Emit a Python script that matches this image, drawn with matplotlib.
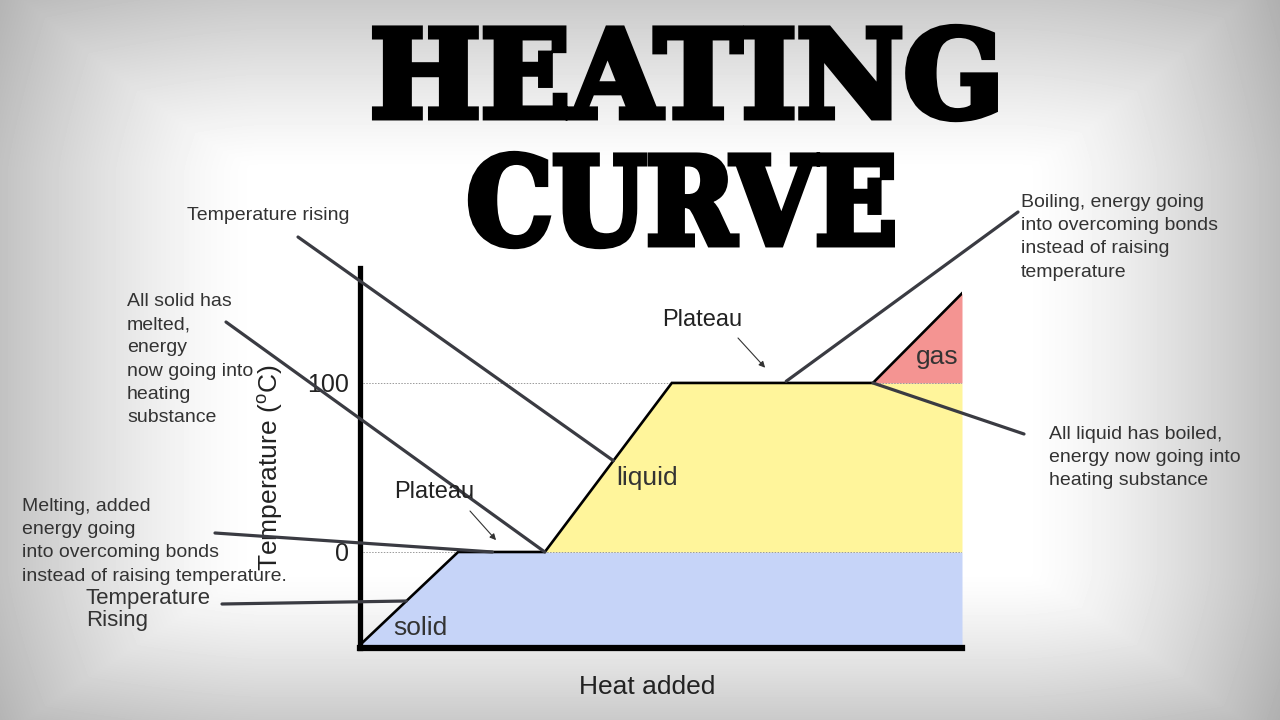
import numpy as np
import matplotlib
matplotlib.use("Agg")
import matplotlib.pyplot as plt
from matplotlib.patches import ConnectionPatch
from matplotlib.transforms import Affine2D
import matplotlib.patheffects as pe

# heating curve (heat added in arbitrary units, temperature in deg C)
heat = [0, 16.3, 30.7, 51.8, 85.2, 100]
temp = [-55, 0, 0, 100, 100, 153]
melt_temp = 0
boil_temp = 100
ytick_values = [0, 100]
ytick_labels = ["0", "100"]
phase_labels = ["solid", "liquid", "gas"]

W, H = 1280, 720
TEXT = "#333333"
LEADER = "#3a3b42"

plt.rcParams["font.family"] = ["Liberation Sans", "DejaVu Sans"]
plt.rcParams["mathtext.fontset"] = "custom"
plt.rcParams["mathtext.rm"] = "Liberation Sans"


def fpx(x, y):
    # figure pixels measured from the top-left corner
    return (x, H - y)


class Squeezed(pe.AbstractPathEffect):
    """Squeeze text horizontally around cx and stroke it for a heavier look."""

    def __init__(self, sx, cx, lw):
        super().__init__()
        self.sx, self.cx, self.lw = sx, cx, lw

    def draw_path(self, renderer, gc, tpath, affine, rgbFace=None):
        aff = affine + Affine2D().translate(-self.cx, 0).scale(self.sx, 1).translate(self.cx, 0)
        gc0 = renderer.new_gc()
        gc0.copy_properties(gc)
        gc0.set_linewidth(self.lw)
        gc0.set_joinstyle("miter")
        gc0.set_foreground("black")
        renderer.draw_path(gc0, tpath, aff, rgbFace)
        gc0.restore()


fig = plt.figure(figsize=(12.8, 7.2), dpi=100)

# soft grey vignette behind everything
bg = fig.add_axes([0, 0, 1, 1], zorder=-10)
xx, yy = np.meshgrid(np.arange(W), np.arange(H))
L = 0.24 * np.clip(1 - xx / 260, 0, 1) ** 1.4
R = 0.26 * np.clip(1 - (W - xx) / 260, 0, 1) ** 1.4
T = 0.21 * np.clip(1 - yy / 170, 0, 1) ** 1.2
B = 0.21 * np.clip(1 - (H - yy) / 150, 0, 1) ** 1.3
dark = np.maximum.reduce([L, R, T, B])
shade = 1 - dark - 0.25 * (L + R + T + B - dark)
bg.imshow(shade, cmap="gray", vmin=0, vmax=1, aspect="auto", interpolation="bilinear")
bg.axis("off")

ax = fig.add_axes([360 / W, 72 / H, 602 / W, 380 / H])
ax.patch.set_alpha(0)
ymin, ymax = -56.8, 168
ax.set_xlim(0, 100)
ax.set_ylim(ymin, ymax)

x = np.array(heat, dtype=float)
t = np.array(temp, dtype=float)
ax.fill_between(x, ymin, np.minimum(t, melt_temp), color="#c6d4f8", lw=0)
ax.fill_between(x, melt_temp, np.clip(t, melt_temp, boil_temp), color="#fff59b", lw=0)
ax.fill_between(x, boil_temp, np.maximum(t, boil_temp), color="#f49492", lw=0)
for level in ytick_values:
    ax.axhline(level, color="#9a9a9a", ls=(0, (1.5, 1.5)), lw=0.7)
ax.plot(x, t, color="black", lw=1.9, solid_joinstyle="miter")

for side in ["top", "right"]:
    ax.spines[side].set_visible(False)
ax.spines["left"].set_linewidth(3.8)
ax.spines["bottom"].set_linewidth(4.5)
ax.set_xticks([])
ax.set_yticks(ytick_values)
ax.set_yticklabels(ytick_labels)
ax.tick_params(axis="y", length=0, pad=8, labelsize=18, labelcolor="#222222")

ax.set_ylabel(r"Temperature ($\mathrm{^{o}}$C)", fontsize=19, color="#222222")
ax.yaxis.set_label_coords(-0.125, 0.474)
ax.set_xlabel("Heat added", fontsize=19, color="#222222")
ax.xaxis.set_label_coords(0.477, -0.072)

# phase names
ax.text(10, -45, phase_labels[0], fontsize=19, color=TEXT, ha="center", va="center")
ax.text(47.7, 44, phase_labels[1], fontsize=19, color=TEXT, ha="center", va="center")
ax.text(95.8, 115.5, phase_labels[2], fontsize=19, color=TEXT, ha="center", va="center")

# plateau labels and small arrows
fig.text(662 / W, 1 - 320 / H, "Plateau", fontsize=17, color="#222222", va="center")
fig.text(394 / W, 1 - 492 / H, "Plateau", fontsize=17, color="#222222", va="center")
arrow = dict(arrowstyle="-|>", color="#333333", lw=0.8, mutation_scale=9, shrinkA=0, shrinkB=0)
ax.annotate("", xy=(67.3, boil_temp + 9), xytext=fpx(738, 338), textcoords="figure pixels", arrowprops=arrow)
ax.annotate("", xy=(22.6, melt_temp + 7), xytext=fpx(470, 511), textcoords="figure pixels", arrowprops=arrow)

# explanatory notes
notes = [
    (187, 207, "Temperature rising", 14),
    (127, 293, "All solid has\nmelted,\nenergy\nnow going into\nheating\nsubstance", 14),
    (22, 498, "Melting, added\nenergy going\ninto overcoming bonds\ninstead of raising temperature.", 14),
    (86, 588, "Temperature\nRising", 16),
    (1021, 194, "Boiling, energy going\ninto overcoming bonds\ninstead of raising\ntemperature", 14),
    (1049, 426, "All liquid has boiled,\nenergy now going into\nheating substance", 14),
]
for nx, ny, txt, size in notes:
    fig.text(nx / W, 1 - ny / H, txt, fontsize=size, color=TEXT, va="top", ha="left",
             linespacing=1.48 if size == 14 else 1.05)

# leader lines from notes to points on the curve
rise_liquid = (np.interp(54, [temp[2], temp[3]], [heat[2], heat[3]]), 54)
rise_solid = (np.interp(-29, [temp[0], temp[1]], [heat[0], heat[1]]), -29)
leaders = [
    (fpx(298, 237), rise_liquid),
    (fpx(226, 322), (heat[2], temp[2])),
    (fpx(215, 533), (22, melt_temp)),
    (fpx(222, 604), rise_solid),
    (fpx(1018, 212), (70.8, boil_temp + 1)),
    (fpx(1024, 434), (heat[4], temp[4])),
]
for start, end in leaders:
    con = ConnectionPatch(xyA=start, coordsA="figure pixels", xyB=end, coordsB="data",
                          axesB=ax, color=LEADER, lw=2.3)
    fig.add_artist(con)

# big title
for word, cx, base, sx in [("HEATING", 687, 117, 0.97), ("CURVE", 682, 244, 0.89)]:
    fig.text(cx / W, 1 - base / H, word, fontsize=87, family="DejaVu Serif", weight="bold",
             color="black", ha="center", va="baseline",
             path_effects=[Squeezed(sx, cx, 5)])

fig.savefig("out.png", dpi=100)
